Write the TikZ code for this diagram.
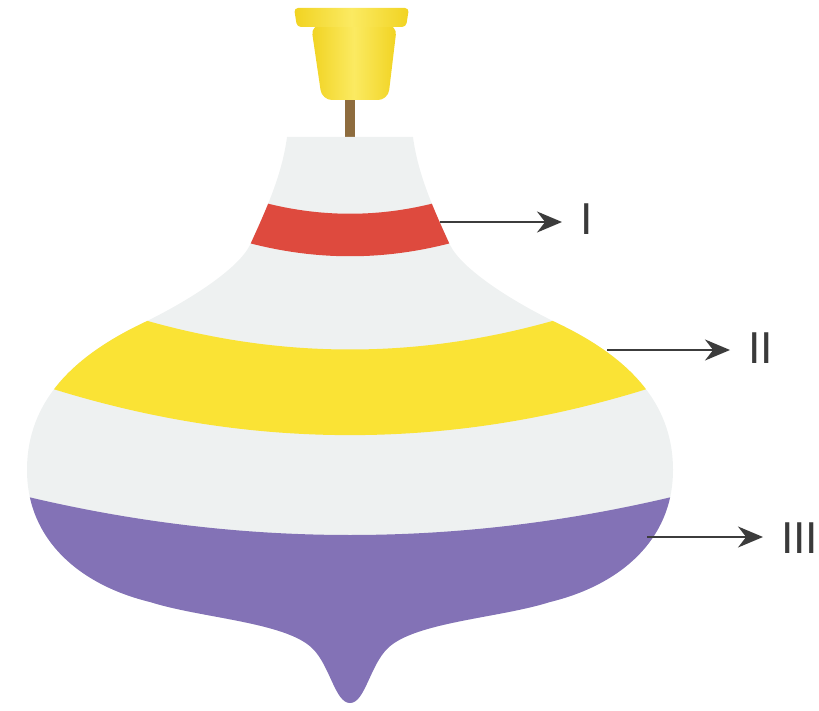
\documentclass[tikz,border=0pt]{standalone}
\usepackage{fontspec}
\setmainfont{Liberation Sans}
\usetikzlibrary{arrows.meta}

\definecolor{bodygray}{HTML}{EEF1F1}
\definecolor{bandred}{HTML}{DE4A3E}
\definecolor{bandyellow}{HTML}{FAE335}
\definecolor{bandpurple}{HTML}{8372B6}
\definecolor{capedge}{HTML}{F1D321}
\definecolor{capmid}{HTML}{FBEA62}
\definecolor{stembrown}{HTML}{8E6C3E}
\definecolor{arrowgray}{HTML}{3C3C3C}
\definecolor{labelgray}{HTML}{3A3A3A}

% outline of the spinning top's body
\def\spinbodyoutline{(287,137) .. controls (282,175) and (266,210) .. (250,245)
  .. controls (238,269) and (190,300) .. (145,322)
  .. controls (75,355) and (27,400) .. (27,470)
  .. controls (27,540) and (80,585) .. (150,602)
  .. controls (200,618) and (285,622) .. (312,648)
  .. controls (330,665) and (335,703) .. (350,703)
  .. controls (365,703) and (370,665) .. (388,648)
  .. controls (415,622) and (500,618) .. (550,602)
  .. controls (620,585) and (673,540) .. (673,470)
  .. controls (673,400) and (625,355) .. (555,322)
  .. controls (510,300) and (462,269) .. (450,245)
  .. controls (434,210) and (418,175) .. (413,137) -- cycle}

\tikzset{
  arr/.style={draw=arrowgray, line width=2pt, shorten >=18pt,
    -{Stealth[length=25pt,width=21pt]}},
  partlabel/.style={text=labelgray, inner sep=0pt, outer sep=0pt,
    anchor=base west, font=\fontsize{44.7}{50}\selectfont},
}

\begin{document}
\begin{tikzpicture}[x=1pt,y=-1pt]
\useasboundingbox (0,0) rectangle (819,711);

% handle: stem and cup
\fill[stembrown] (345,95) rectangle (355,139);
\shade[left color=capedge, right color=capedge, middle color=capmid,
  rounded corners=10pt] (311,25) -- (322,100) -- (388,100) -- (397,25) -- cycle;
\shade[left color=capedge, right color=capedge, middle color=capmid,
  rounded corners=4pt] (294,8) -- (409,8) -- (406,27) -- (297,27) -- cycle;

% body
\fill[bodygray] \spinbodyoutline;

\begin{scope}
  \clip \spinbodyoutline;
  % red band
  \fill[bandred] (200,180) .. controls (300,225) and (400,225) .. (500,180)
    -- (500,227) .. controls (400,266) and (300,266) .. (200,227) -- cycle;
  % yellow band
  \fill[bandyellow] (100,306) .. controls (267,364) and (433,364) .. (600,306)
    -- (700,371) .. controls (467,456.5) and (233,456.5) .. (0,371) -- cycle;
  % purple bottom
  \fill[bandpurple] (0,490) .. controls (233,550) and (467,550) .. (700,490)
    -- (700,720) -- (0,720) -- cycle;
\end{scope}

% labels
\node[partlabel] (lI) at (580,235) {I};
\node[partlabel] (lII) at (748,363) {II};
\node[partlabel] (lIII) at (781,553) {III};

% pointers
\coordinate (pI) at (440,222);
\coordinate (pII) at (607,350);
\coordinate (pIII) at (647,537);
\draw[arr] (pI) -- (pI -| lI.west);
\draw[arr] (pII) -- (pII -| lII.west);
\draw[arr] (pIII) -- (pIII -| lIII.west);
\end{tikzpicture}
\end{document}
